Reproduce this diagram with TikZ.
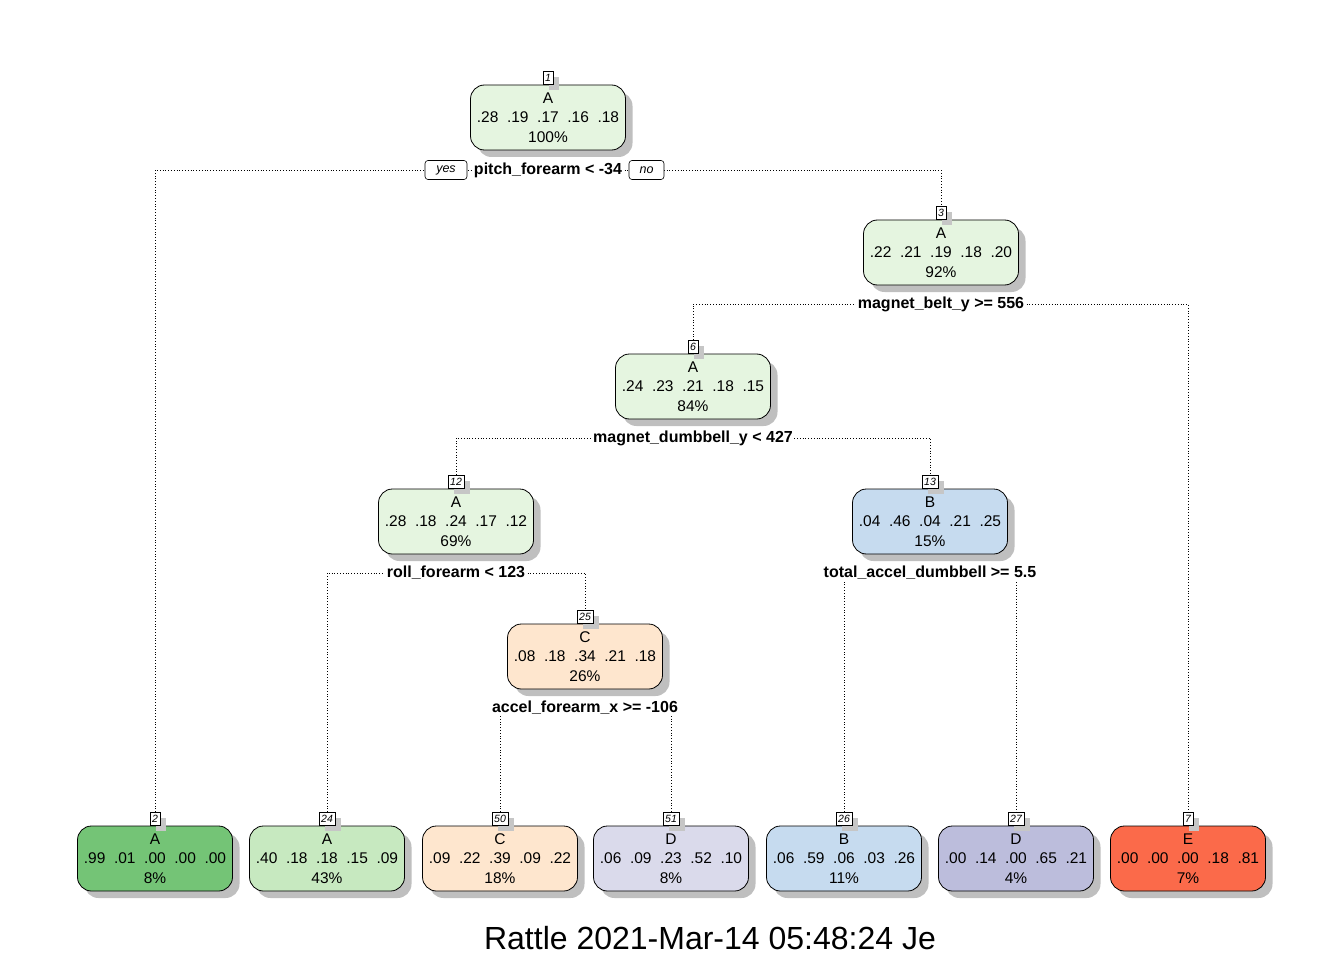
\documentclass[tikz,border=0pt]{standalone}
\usepackage{fontspec}
\setmainfont{Liberation Sans}
\usetikzlibrary{shadows,backgrounds}
\definecolor{cgA}{HTML}{E5F5E0}
\definecolor{cgB}{HTML}{74C476}
\definecolor{cgC}{HTML}{C7E9C0}
\definecolor{cbA}{HTML}{C6DBEF}
\definecolor{coA}{HTML}{FEE6CE}
\definecolor{cpA}{HTML}{DADAEB}
\definecolor{cpB}{HTML}{BCBDDC}
\definecolor{crA}{HTML}{FB6A4A}
\tikzset{
  tbox/.style={draw, line width=0.8pt, rounded corners=14pt, minimum width=155pt,
    minimum height=65pt, align=center, inner sep=0pt,
    font=\fontsize{15.5}{19.5}\selectfont,
    execute at begin node={\rule{0pt}{14.5pt}},
    drop shadow={shadow xshift=7pt, shadow yshift=-7pt, fill=gray!50, opacity=1}},
  numbox/.style={draw, fill=white, line width=0.6pt, inner xsep=2pt, inner ysep=1pt,
    minimum height=13pt, anchor=south, font=\fontsize{10.5}{12}\selectfont\itshape,
    drop shadow={shadow xshift=6pt, shadow yshift=-6pt, fill=gray!45, opacity=1}},
  split/.style={fill=white, inner xsep=1.5pt, inner ysep=1pt, font=\fontsize{16}{19}\selectfont\bfseries},
  yn/.style={draw, fill=white, rounded corners=3pt, line width=0.6pt, minimum height=19pt,
    inner xsep=2pt, font=\fontsize{12.5}{14}\selectfont\itshape},
  conn/.style={dotted, line width=0.8pt}
}
\begin{document}
\begin{tikzpicture}[x=1pt,y=-1pt]
\useasboundingbox (0,0) rectangle (1344,960);
% internal nodes
\node[tbox, fill=cgA] (n1) at (548,117.5) {A\\.28\ \ .19\ \ .17\ \ .16\ \ .18\\100\%};
\node[tbox, fill=cgA] (n3) at (941,252.5) {A\\.22\ \ .21\ \ .19\ \ .18\ \ .20\\92\%};
\node[tbox, fill=cgA] (n6) at (693,386.5) {A\\.24\ \ .23\ \ .21\ \ .18\ \ .15\\84\%};
\node[tbox, fill=cgA] (n12) at (456,521.5) {A\\.28\ \ .18\ \ .24\ \ .17\ \ .12\\69\%};
\node[tbox, fill=cbA] (n13) at (930,521.5) {B\\.04\ \ .46\ \ .04\ \ .21\ \ .25\\15\%};
\node[tbox, fill=coA] (n25) at (585,656.5) {C\\.08\ \ .18\ \ .34\ \ .21\ \ .18\\26\%};
% leaves
\node[tbox, fill=cgB] (n2) at (155,858.5) {A\\.99\ \ .01\ \ .00\ \ .00\ \ .00\\8\%};
\node[tbox, fill=cgC] (n24) at (327,858.5) {A\\.40\ \ .18\ \ .18\ \ .15\ \ .09\\43\%};
\node[tbox, fill=coA] (n50) at (500,858.5) {C\\.09\ \ .22\ \ .39\ \ .09\ \ .22\\18\%};
\node[tbox, fill=cpA] (n51) at (671,858.5) {D\\.06\ \ .09\ \ .23\ \ .52\ \ .10\\8\%};
\node[tbox, fill=cbA] (n26) at (844,858.5) {B\\.06\ \ .59\ \ .06\ \ .03\ \ .26\\11\%};
\node[tbox, fill=cpB] (n27) at (1016,858.5) {D\\.00\ \ .14\ \ .00\ \ .65\ \ .21\\4\%};
\node[tbox, fill=crA] (n7) at (1188,858.5) {E\\.00\ \ .00\ \ .00\ \ .18\ \ .81\\7\%};
% number boxes
\foreach \k in {1,3,6,12,13,25,2,24,50,51,26,27,7}{
  \node[numbox] (k\k) at (n\k.north) {\k};
}
% split labels
\node[split] (s1) at (548,170) {pitch\_forearm < -34};
\node[yn, minimum width=42pt] (yes) at (446,170) {yes};
\node[yn, minimum width=35pt] (no) at (646.5,170) {no};
\node[split] (s3) at (941,304) {magnet\_belt\_y >= 556};
\node[split] (s6) at (693,438) {magnet\_dumbbell\_y < 427};
\node[split] (s12) at (456,573) {roll\_forearm < 123};
\node[split] (s13) at (930,573) {total\_accel\_dumbbell >= 5.5};
\node[split] (s25) at (585,708) {accel\_forearm\_x >= -106};
% connectors
\begin{scope}[on background layer]
\draw[conn] (k2.north) |- (s1.center) -| (k3.north);
\draw[conn] (k6.north) |- (s3.center) -| (k7.north);
\draw[conn] (k12.north) |- (s6.center) -| (k13.north);
\draw[conn] (k24.north) |- (s12.center) -| (k25.north);
\draw[conn] (k26.north) |- (s13.center) -| (k27.north);
\draw[conn] (k50.north) |- (s25.center) -| (k51.north);
\end{scope}
% title
\node[font=\fontsize{32}{38}\selectfont] (title) at (710,938) {Rattle 2021-Mar-14 05:48:24 Je};
\end{tikzpicture}
\end{document}
